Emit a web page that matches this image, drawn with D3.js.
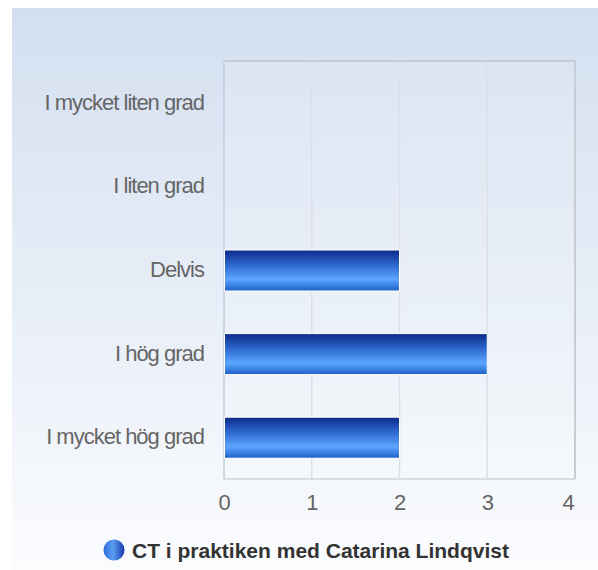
<!DOCTYPE html>
<html>
<head>
<meta charset="utf-8">
<script src="https://cdn.jsdelivr.net/npm/d3@7"></script>
<style>
  body { margin: 0; background: #fff; }
  svg text { font-family: "Liberation Sans", Arial, sans-serif; }
</style>
</head>
<body>
<div id="chart"></div>
<script>
// data
const categories = ['I mycket liten grad', 'I liten grad', 'Delvis', 'I hög grad', 'I mycket hög grad'];
const values = [0, 0, 2, 3, 2];
const xTicks = [0, 1, 2, 3, 4];
const seriesName = 'CT i praktiken med Catarina Lindqvist';

const W = 598, H = 570;
const svg = d3.select('#chart').append('svg')
  .attr('width', W)
  .attr('height', H);

const defs = svg.append('defs');

const bg = defs.append('linearGradient').attr('id', 'bg')
  .attr('x1', 0).attr('y1', 0).attr('x2', 0).attr('y2', 1);
bg.append('stop').attr('offset', '0%').attr('stop-color', '#d3dff0');
bg.append('stop').attr('offset', '100%').attr('stop-color', '#fbfcfe');

const barGrad = defs.append('linearGradient').attr('id', 'bar')
  .attr('x1', 0).attr('y1', 0).attr('x2', 0).attr('y2', 1);
barGrad.append('stop').attr('offset', '0%').attr('stop-color', '#0a2a88');
barGrad.append('stop').attr('offset', '35%').attr('stop-color', '#2c65cc');
barGrad.append('stop').attr('offset', '72%').attr('stop-color', '#5ba6ff');
barGrad.append('stop').attr('offset', '100%').attr('stop-color', '#1d5fc6');

const dot = defs.append('linearGradient').attr('id', 'dot')
  .attr('x1', 0).attr('y1', 0).attr('x2', 1).attr('y2', 0);
dot.append('stop').attr('offset', '0%').attr('stop-color', '#2d6ad6');
dot.append('stop').attr('offset', '45%').attr('stop-color', '#5b9ef2');
dot.append('stop').attr('offset', '100%').attr('stop-color', '#1638a8');

// background panel
svg.append('rect')
  .attr('x', 12).attr('y', 8)
  .attr('width', W - 12).attr('height', H - 8)
  .attr('fill', 'url(#bg)');

const margin = { top: 61, right: 23, bottom: 91, left: 224 };
const width = W - margin.left - margin.right;
const height = H - margin.top - margin.bottom;

const x = d3.scaleLinear()
  .domain([0, 4])
  .range([0, width]);

const y = d3.scaleBand()
  .domain(categories)
  .range([0, height])
  .paddingInner(0.51)
  .paddingOuter(0.255);

const g = svg.append('g')
  .attr('transform', `translate(${margin.left},${margin.top})`);

// plot area
g.append('rect')
  .attr('width', width).attr('height', height)
  .attr('fill', 'rgba(255,255,255,0.12)');

// gridlines
g.selectAll('.grid')
  .data(xTicks.slice(1, -1))
  .enter().append('line')
  .attr('class', 'grid')
  .attr('x1', d => x(d)).attr('x2', d => x(d))
  .attr('y1', 0).attr('y2', height)
  .attr('stroke', '#dde0e8')
  .attr('stroke-width', 1.5);

// frame
g.append('line').attr('x1', 0).attr('x2', width).attr('y1', 0).attr('y2', 0)
  .attr('stroke', '#c6ccd6').attr('stroke-width', 2);
g.append('line').attr('x1', width).attr('x2', width).attr('y1', 0).attr('y2', height)
  .attr('stroke', '#c8ccd4').attr('stroke-width', 2);
g.append('line').attr('x1', 0).attr('x2', width).attr('y1', height).attr('y2', height)
  .attr('stroke', '#cfd4de').attr('stroke-width', 1.5);
g.append('line').attr('x1', 0).attr('x2', 0).attr('y1', 0).attr('y2', height)
  .attr('stroke', '#c3cde3').attr('stroke-width', 1.5);

// bars
g.selectAll('.bar')
  .data(categories.map((c, i) => ({ c, v: values[i] })).filter(d => d.v > 0))
  .enter().append('rect')
  .attr('class', 'bar')
  .attr('x', x(0) + 0.5)
  .attr('y', d => y(d.c) + 0.5)
  .attr('width', d => x(d.v) - x(0) - 0.5)
  .attr('height', y.bandwidth())
  .attr('fill', 'url(#bar)')
  .attr('stroke', '#ffffff')
  .attr('stroke-width', 1);

// category labels
const yAxis = g.append('g')
  .call(d3.axisLeft(y).tickSize(0).tickPadding(20));
yAxis.select('.domain').remove();
yAxis.selectAll('text')
  .attr('fill', '#666')
  .attr('font-size', 22)
  .attr('letter-spacing', '-1px')
  .attr('font-family', '"Liberation Sans", Arial, sans-serif');

// x tick labels
const xAxis = g.append('g')
  .attr('transform', `translate(0,${height})`)
  .call(d3.axisBottom(x).tickValues(xTicks).tickSize(0).tickPadding(15).tickFormat(d3.format('d')));
xAxis.select('.domain').remove();
xAxis.selectAll('text')
  .attr('fill', '#666')
  .attr('font-size', 22)
  .attr('font-family', '"Liberation Sans", Arial, sans-serif')
  .attr('dx', d => d === 4 ? -7 : 0);

// legend
const legend = svg.append('g').attr('transform', 'translate(114,550)');
legend.append('circle')
  .attr('r', 10.5)
  .attr('fill', 'url(#dot)');
legend.append('text')
  .attr('x', 18).attr('y', 7.5)
  .attr('fill', '#333')
  .attr('font-size', 21)
  .attr('font-weight', 'bold')
  .text(seriesName);
</script>
</body>
</html>
